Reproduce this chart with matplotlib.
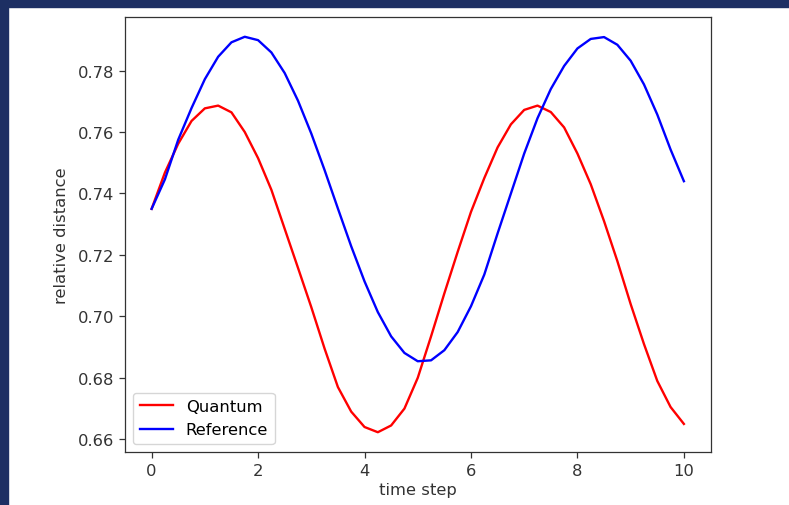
import matplotlib
matplotlib.use("Agg")
import matplotlib.pyplot as plt
from matplotlib.patches import Rectangle

time_step = [0.0, 0.25, 0.5, 0.75, 1.0, 1.25, 1.5, 1.75, 2.0, 2.25, 2.5, 2.75, 3.0, 3.25,
             3.5, 3.75, 4.0, 4.25, 4.5, 4.75, 5.0, 5.25, 5.5, 5.75, 6.0, 6.25, 6.5, 6.75,
             7.0, 7.25, 7.5, 7.75, 8.0, 8.25, 8.5, 8.75, 9.0, 9.25, 9.5, 9.75, 10.0]

quantum = [0.7350, 0.7468, 0.7562, 0.7636, 0.7677, 0.7686, 0.7664, 0.7600, 0.7515, 0.7412,
           0.7285, 0.7158, 0.7030, 0.6895, 0.6770, 0.6690, 0.6640, 0.6623, 0.6645, 0.6700,
           0.6800, 0.6935, 0.7075, 0.7210, 0.7340, 0.7450, 0.7550, 0.7625, 0.7672, 0.7686,
           0.7665, 0.7615, 0.7530, 0.7430, 0.7310, 0.7180, 0.7040, 0.6910, 0.6790, 0.6705,
           0.6650]

reference = [0.7350, 0.7446, 0.7575, 0.7678, 0.7772, 0.7845, 0.7892, 0.7910, 0.7899, 0.7859,
             0.7792, 0.7702, 0.7595, 0.7476, 0.7351, 0.7228, 0.7114, 0.7014, 0.6935, 0.6881,
             0.6854, 0.6857, 0.6890, 0.6949, 0.7033, 0.7136, 0.7270, 0.7400, 0.7530, 0.7645,
             0.7740, 0.7815, 0.7872, 0.7903, 0.7909, 0.7884, 0.7832, 0.7755, 0.7657, 0.7543,
             0.7440]

series_labels = ["Quantum", "Reference"]
x_label = "time step"
y_label = "relative distance"

W, H = 789, 506
fig = plt.figure(figsize=(W / 100, H / 100), dpi=100)
fs = 11.8

ax = fig.add_axes([125 / W, (H - 453) / H, 585.5 / W, 435 / H])
ax.plot(time_step, quantum, color="red", lw=1.7, label=series_labels[0])
ax.plot(time_step, reference, color="blue", lw=1.7, label=series_labels[1])

ax.set_xticks([0, 2, 4, 6, 8, 10])
ax.set_yticks([0.66, 0.68, 0.70, 0.72, 0.74, 0.76, 0.78])
ax.set_yticklabels(["0.66", "0.68", "0.70", "0.72", "0.74", "0.76", "0.78"])
ax.tick_params(labelsize=fs, colors="#333333", length=4.5, width=0.9)
for s in ax.spines.values():
    s.set_color("#333333")
    s.set_linewidth(0.9)
ax.set_xlabel(x_label, fontsize=fs, color="#333333", labelpad=3)
ax.set_ylabel(y_label, fontsize=fs, color="#333333", labelpad=6)
ax.legend(loc="lower left", fontsize=fs, framealpha=0.8)

# screenshot frame
fig.add_artist(Rectangle((0, 1 - 8 / H), 1, 8 / H, transform=fig.transFigure,
                         color="#1d2f63", zorder=10))
fig.add_artist(Rectangle((0, 0), 8 / W, 1, transform=fig.transFigure,
                         color="#1d2f63", zorder=10))

fig.savefig("out.png", dpi=100)
